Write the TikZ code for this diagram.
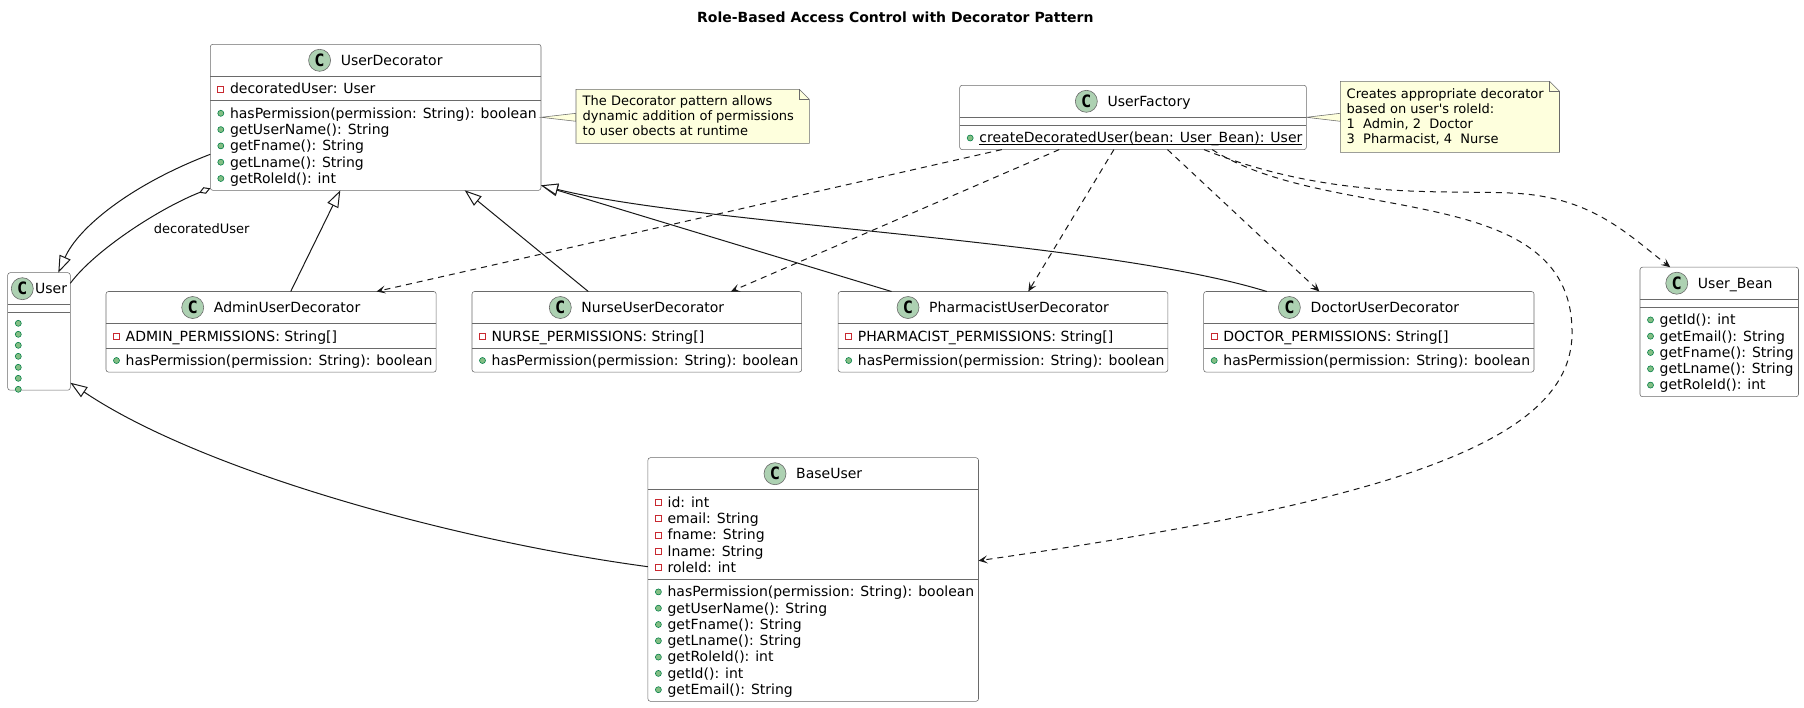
\documentclass[tikz,border=0pt]{standalone}
\usepackage{fontspec}
\setmainfont{DejaVu Sans}
\newfontfamily\spotfont{DejaVu Sans Mono}
\usetikzlibrary{arrows.meta,calc}
\definecolor{notefill}{HTML}{FEFFDD}
\definecolor{spotfill}{HTML}{ADD1B2}
\definecolor{pubfill}{HTML}{84BE84}
\definecolor{pubdraw}{HTML}{038048}
\definecolor{privdraw}{HTML}{C82930}
\definecolor{lncol}{HTML}{181818}
\definecolor{bdcol}{HTML}{6A6A6A}
\newcounter{memc}
\tikzset{
 clsbox/.style={draw=bdcol, line width=0.55pt, fill=white, rounded corners=2.5pt, inner sep=0pt, outer sep=0pt, anchor=north west},
 boxline/.style={draw=bdcol, line width=0.55pt},
 cname/.style={inner sep=0pt, font=\fontsize{14}{16.3}\selectfont},
 mem/.style={inner sep=0pt, font=\fontsize{14}{16.3}\selectfont, anchor=base west},
 spot/.style={circle, draw=bdcol, line width=0.6pt, fill=spotfill, minimum size=22pt, inner sep=0pt, font=\spotfont\bfseries\fontsize{17}{17}\selectfont},
 notebox/.style={inner sep=0pt, outer sep=0pt, anchor=north west},
 notetxt/.style={inner sep=0pt, anchor=base west, font=\fontsize{13}{15.1}\selectfont},
 lbl/.style={inner sep=0pt, anchor=base, font=\fontsize{13}{15.1}\selectfont},
 ttl/.style={inner sep=0pt, anchor=base, font=\bfseries\fontsize{14}{16.3}\selectfont},
 inh/.style={draw=lncol, line width=1pt, -{Triangle[length=17pt,width=12pt,fill=white]}},
 dep/.style={draw=lncol, line width=1pt, dash pattern=on 6pt off 5pt, -{Stealth[length=9pt,width=8pt,inset=4pt]}},
 agg/.style={draw=lncol, line width=1pt, -{Diamond[length=12pt,width=7pt,fill=white]}},
}
\newcommand{\clshead}[3]{%
  \node[cname, anchor=base] (#3) at ($(#1.north)+(16,20.85)$) {#2};
  \node[spot] (#3s) at ($(#3.base west)+(-21,-4.85)$) {C};
}
\newcommand{\sepl}[2]{\draw[boxline] ($(#1.north west)+(0,#2)$) -- ($(#1.north east)+(0,#2)$);}
\newcommand{\pubm}[4]{%
  \stepcounter{memc}%
  \filldraw[fill=pubfill, draw=pubdraw, line width=0.6pt] ($(#1.north west)+(10.5,{#2+12.7+16.3*#3})$) circle (3);
  \node[mem] (m\arabic{memc}) at ($(#1.north west)+(19.5,{#2+17.5+16.3*#3})$) {#4};
}
\newcommand{\privm}[4]{%
  \stepcounter{memc}%
  \draw[privdraw, line width=0.8pt] ($(#1.north west)+(10.5,{#2+12.7+16.3*#3})$) +(-3,-3) rectangle +(3,3);
  \node[mem] (m\arabic{memc}) at ($(#1.north west)+(19.5,{#2+17.5+16.3*#3})$) {#4};
}
\newcommand{\noteshape}[1]{%
  \filldraw[fill=notefill, draw=bdcol, line width=0.55pt] (#1.north west) -- ($(#1.north east)+(-10,0)$) -- ($(#1.north east)+(0,10)$) -- (#1.south east) -- (#1.south west) -- cycle;
  \draw[boxline] ($(#1.north east)+(-10,0)$) -- ($(#1.north east)+(-10,10)$) -- ($(#1.north east)+(0,10)$);
}
\begin{document}
\begin{tikzpicture}[x=1pt,y=-1pt]
\useasboundingbox (0,0) rectangle (1804,707);
\fill[white] (0,0) rectangle (1804,707);

\node[ttl] (title) at (895.4,22.7) {Role-Based Access Control with Decorator Pattern};

% UserDecorator
\node[clsbox, minimum width=330.7pt, minimum height=146pt] (ud) at (210.3,44.3) {};
\clshead{ud}{UserDecorator}{udn}
\sepl{ud}{32} \sepl{ud}{56.3}
\privm{ud}{32}{0}{decoratedUser: User}
\pubm{ud}{56.3}{0}{hasPermission(permission: String): boolean}
\pubm{ud}{56.3}{1}{getUserName(): String}
\pubm{ud}{56.3}{2}{getFname(): String}
\pubm{ud}{56.3}{3}{getLname(): String}
\pubm{ud}{56.3}{4}{getRoleId(): int}

% User
\node[clsbox, minimum width=62.6pt, minimum height=117.5pt] (user) at (7.7,272.7) {};
\node[cname, anchor=base west] (usern) at (35,293.5) {User};
\node[spot] (userns) at (22.3,288.7) {C};
\sepl{user}{31.6} \sepl{user}{39.6}
\foreach \k in {0,...,6} \filldraw[fill=pubfill, draw=pubdraw, line width=0.6pt] (18.3,{323.3+11*\k}) circle (3);

% Admin
\node[clsbox, minimum width=330.2pt, minimum height=80.6pt] (admin) at (106,291.5) {};
\clshead{admin}{AdminUserDecorator}{adminn}
\sepl{admin}{32} \sepl{admin}{56.3}
\privm{admin}{32}{0}{ADMIN\_PERMISSIONS: String[]}
\pubm{admin}{56.3}{0}{hasPermission(permission: String): boolean}

% Nurse
\node[clsbox, minimum width=329.7pt, minimum height=80.6pt] (nurse) at (472,291.5) {};
\clshead{nurse}{NurseUserDecorator}{nursen}
\sepl{nurse}{32} \sepl{nurse}{56.3}
\privm{nurse}{32}{0}{NURSE\_PERMISSIONS: String[]}
\pubm{nurse}{56.3}{0}{hasPermission(permission: String): boolean}

% Pharmacist
\node[clsbox, minimum width=329.7pt, minimum height=80.6pt] (pharm) at (838.2,291.5) {};
\clshead{pharm}{PharmacistUserDecorator}{pharmn}
\sepl{pharm}{32} \sepl{pharm}{56.3}
\privm{pharm}{32}{0}{PHARMACIST\_PERMISSIONS: String[]}
\pubm{pharm}{56.3}{0}{hasPermission(permission: String): boolean}

% Doctor
\node[clsbox, minimum width=330.3pt, minimum height=80.6pt] (doctor) at (1203.7,291.5) {};
\clshead{doctor}{DoctorUserDecorator}{doctorn}
\sepl{doctor}{32} \sepl{doctor}{56.3}
\privm{doctor}{32}{0}{DOCTOR\_PERMISSIONS: String[]}
\pubm{doctor}{56.3}{0}{hasPermission(permission: String): boolean}

% UserFactory
\node[clsbox, minimum width=346.7pt, minimum height=64.3pt] (uf) at (959.7,85.3) {};
\clshead{uf}{UserFactory}{ufn}
\sepl{uf}{32} \sepl{uf}{40}
\pubm{uf}{40}{0}{\underline{\smash{createDecoratedUser(bean: User\_Bean): User}}}

% User_Bean
\node[clsbox, minimum width=158.5pt, minimum height=129.5pt] (ub) at (1640,267.2) {};
\clshead{ub}{User\_Bean}{ubn}
\sepl{ub}{32} \sepl{ub}{40}
\pubm{ub}{40}{0}{getId(): int}
\pubm{ub}{40}{1}{getEmail(): String}
\pubm{ub}{40}{2}{getFname(): String}
\pubm{ub}{40}{3}{getLname(): String}
\pubm{ub}{40}{4}{getRoleId(): int}

% BaseUser
\node[clsbox, minimum width=330.6pt, minimum height=243.6pt] (base) at (647.9,457.7) {};
\clshead{base}{BaseUser}{basen}
\sepl{base}{32} \sepl{base}{121.5}
\privm{base}{32}{0}{id: int}
\privm{base}{32}{1}{email: String}
\privm{base}{32}{2}{fname: String}
\privm{base}{32}{3}{lname: String}
\privm{base}{32}{4}{roleId: int}
\pubm{base}{121.5}{0}{hasPermission(permission: String): boolean}
\pubm{base}{121.5}{1}{getUserName(): String}
\pubm{base}{121.5}{2}{getFname(): String}
\pubm{base}{121.5}{3}{getLname(): String}
\pubm{base}{121.5}{4}{getRoleId(): int}
\pubm{base}{121.5}{5}{getId(): int}
\pubm{base}{121.5}{6}{getEmail(): String}

% Notes
\node[notebox, minimum width=233.3pt, minimum height=54pt] (note1) at (576,89.3) {};
\filldraw[fill=notefill, draw=bdcol, line width=0.55pt] ($(ud.north east)+(0,73)$) -- ($(note1.north west)+(0,24)$) -- ($(note1.north west)+(0,32)$) -- cycle;
\noteshape{note1}
\node[notetxt] (n1a) at (582.5,105.7) {The Decorator pattern allows};
\node[notetxt] (n1b) at (582.5,120.8) {dynamic addition of permissions};
\node[notetxt] (n1c) at (582.5,135.9) {to user obects at runtime};

\node[notebox, minimum width=219.2pt, minimum height=71pt] (note2) at (1340.3,81.3) {};
\filldraw[fill=notefill, draw=bdcol, line width=0.55pt] ($(uf.north east)+(0,32)$) -- ($(note2.north west)+(0,32)$) -- ($(note2.north west)+(0,40)$) -- cycle;
\noteshape{note2}
\node[notetxt] (n2a) at (1346.5,98.5) {Creates appropriate decorator};
\node[notetxt] (n2b) at (1346.5,113.6) {based on user\textquotesingle s roleId:};
\node[notetxt] (n2c) at (1346.5,128.7) {1~~Admin, 2~~Doctor};
\node[notetxt] (n2d) at (1346.5,143.8) {3~~Pharmacist, 4~~Nurse};

% Inheritance / aggregation
\draw[inh] ($(ud.north west)+(0,110)$) .. controls (130,185) and (78,228) .. ($(user.north west)+(50.6,0)$);
\draw[agg] ($(user.north east)+(0,10.6)$) .. controls (95,250) and (160,208) .. ($(ud.south west)+(0,-2)$);
\node[lbl] (agglbl) at (201.7,233) {decoratedUser};
\draw[inh] ($(admin.north west)+(184.7,0)$) -- ($(ud.south west)+(130,0)$);
\draw[inh] ($(nurse.north west)+(116.3,0)$) -- ($(ud.south west)+(254.4,0)$);
\draw[inh] ($(pharm.north west)+(53.3,0)$) -- ($(ud.south east)+(0,-5)$);
\draw[inh] ($(doctor.north west)+(63.1,0)$) .. controls (1100,240) and (700,225) .. ($(ud.south east)+(0,-5)$);
\draw[inh] ($(base.north west)+(0,109)$) .. controls (450,540) and (200,470) .. ($(user.south east)+(0,-7.5)$);

% Dependencies
\draw[dep] ($(uf.south west)+(42.1,0)$) -- ($(admin.north west)+(270.5,0)$);
\draw[dep] ($(uf.south west)+(99.5,0)$) -- ($(nurse.north west)+(258.9,0)$);
\draw[dep] ($(uf.south west)+(154.2,0)$) -- ($(pharm.north west)+(190.1,0)$);
\draw[dep] ($(uf.south west)+(207.8,0)$) -- ($(doctor.north west)+(115.7,0)$);
\draw[dep] ($(uf.south west)+(244.3,0)$) .. controls (1330,200) and (1440,190) .. (1510,193) .. controls (1590,196) and (1625,232) .. ($(ub.north west)+(30.2,0)$);
\draw[dep] ($(uf.south west)+(252.5,0)$) .. controls (1330,225) and (1570,180) .. (1572,330) .. controls (1575,440) and (1400,500) .. ($(base.north east)+(0,103)$);
\end{tikzpicture}
\end{document}
